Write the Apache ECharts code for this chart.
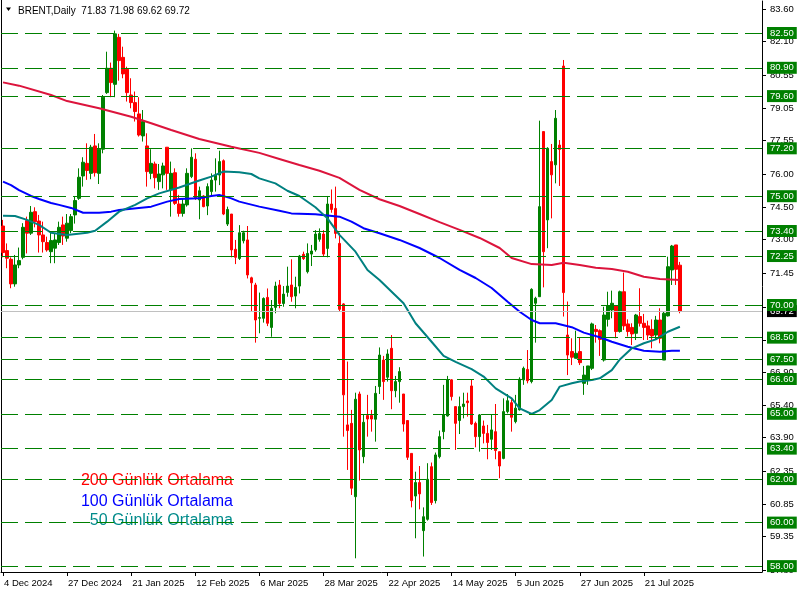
<!DOCTYPE html>
<html><head><meta charset="utf-8">
<script src="https://cdn.jsdelivr.net/npm/echarts@6/dist/echarts.min.js"></script>
<style>html,body{margin:0;padding:0;background:#fff}#c{width:805px;height:595px}</style>
</head><body><div id="c"></div>
<script>
const startDate = [2024, 11, 4];
const holidays = ['2024-12-25', '2025-01-01', '2025-04-18'];
const slotCount = 190;
const tickLabels = ['4 Dec 2024','27 Dec 2024','21 Jan 2025','12 Feb 2025','6 Mar 2025','28 Mar 2025','22 Apr 2025','14 May 2025','5 Jun 2025','27 Jun 2025','21 Jul 2025'];
const header = 'BRENT,Daily  71.83 71.98 69.62 69.72';

const opens = [73.63,72.50,72.10,70.97,71.84,72.19,73.88,73.30,74.29,73.86,73.22,72.87,72.45,72.61,72.87,73.68,73.07,73.42,74.14,74.90,
75.93,76.51,76.05,77.31,76.05,77.16,79.76,80.88,80.14,82.30,81.38,80.83,79.65,79.30,78.78,77.77,77.31,76.05,76.48,75.67,
75.98,77.25,75.29,76.08,74.64,74.21,74.60,75.90,76.70,74.83,75.01,74.55,75.21,75.74,75.97,76.63,73.72,74.18,72.56,72.14,
72.95,72.99,71.25,70.92,69.39,69.39,70.35,68.97,69.89,70.92,70.07,70.58,70.92,70.41,70.87,72.33,71.53,72.34,72.53,73.02,
73.26,72.60,74.64,74.44,72.83,70.05,64.49,64.56,61.19,65.91,63.03,64.92,64.92,64.75,66.25,67.47,66.68,68.01,66.06,66.48,
65.91,64.69,63.18,61.22,61.84,59.63,60.15,62.57,61.01,63.03,64.18,64.90,66.56,65.33,64.69,65.33,65.59,66.28,64.56,63.95,
64.44,64.10,63.83,64.18,63.26,62.95,65.10,65.51,64.64,65.18,66.56,67.04,66.48,70.08,70.38,77.97,73.91,76.59,76.44,77.35,
80.98,68.62,67.86,67.55,67.86,66.40,66.55,67.09,68.88,68.82,67.47,69.34,69.77,69.96,68.78,70.61,69.13,68.97,68.70,69.47,
69.16,69.04,68.88,68.62,69.31,67.47,69.50,71.61,72.76,71.83];
const highs = [73.91,72.83,72.19,72.30,72.64,73.76,74.06,74.55,74.49,74.14,73.83,73.14,73.37,73.30,73.83,74.06,74.18,74.18,74.98,76.28,
76.79,77.43,77.36,77.86,77.43,79.65,81.64,81.14,82.61,82.46,81.87,80.95,80.42,79.81,79.55,78.96,77.89,77.16,76.59,76.48,
76.54,77.25,76.59,76.28,75.06,74.90,76.28,77.20,76.97,75.44,75.05,75.59,76.05,76.74,77.09,76.69,74.52,74.18,72.99,73.67,
73.41,73.63,71.30,71.02,70.57,70.35,70.76,70.23,71.07,71.15,70.87,71.76,72.10,71.30,72.30,72.45,72.83,72.76,73.44,73.52,
73.44,75.01,75.31,75.44,73.32,70.08,67.40,65.18,65.97,66.02,64.99,65.87,65.18,66.28,68.05,67.66,67.96,68.62,66.74,67.14,
65.91,64.69,63.18,62.34,62.60,60.70,62.73,62.76,63.22,64.23,66.33,66.74,66.59,65.33,65.79,65.97,65.97,66.59,64.64,64.99,
64.69,64.49,64.99,65.45,63.26,65.71,65.91,65.67,65.87,66.68,67.17,67.93,70.77,70.38,78.47,77.97,77.25,77.40,78.96,77.58,
81.26,70.16,68.47,68.82,68.52,67.20,67.20,69.19,69.08,68.88,69.92,70.61,70.66,70.00,70.66,71.49,69.34,69.16,69.59,70.77,
69.59,69.28,69.34,69.50,69.85,69.69,72.22,72.76,72.76,71.98];
const lows = [72.19,71.69,70.77,70.84,71.69,72.10,72.37,73.22,73.57,72.41,72.41,72.45,71.92,71.92,72.76,72.76,72.91,73.30,73.74,74.83,
75.44,75.75,75.78,75.90,75.56,76.97,79.70,79.55,79.55,80.31,80.42,79.35,79.04,78.43,77.74,77.51,75.44,75.78,75.36,75.29,
75.36,75.29,74.06,74.60,74.06,74.06,74.52,75.83,74.83,73.94,74.49,74.13,75.05,75.21,75.51,74.13,73.63,72.19,71.88,72.07,
72.83,71.22,69.69,68.27,68.70,69.19,69.03,68.54,69.62,69.85,69.92,70.38,70.15,69.85,70.53,72.07,71.45,71.79,72.45,72.91,
72.22,72.19,74.24,73.06,69.69,63.95,62.42,61.27,58.36,61.93,62.73,63.95,64.18,63.72,65.91,65.64,66.48,65.21,65.76,65.51,
64.18,62.88,60.70,59.28,60.61,58.44,60.09,60.81,60.88,62.95,63.83,64.87,65.61,63.34,64.07,64.79,64.87,64.49,63.46,63.26,
63.64,62.91,63.34,62.91,62.04,62.91,65.02,64.18,64.56,65.15,66.33,66.40,66.40,68.27,70.38,70.81,72.61,73.98,75.59,75.47,
69.47,66.78,67.24,67.55,67.24,65.87,66.33,67.01,68.27,67.66,67.40,69.01,69.39,68.47,68.73,68.85,68.55,68.16,68.39,69.01,
68.39,68.39,68.01,68.39,68.24,67.47,69.47,70.92,70.92,69.62];
const closes = [72.41,72.15,70.97,71.84,72.04,73.57,73.30,74.26,73.83,73.22,72.91,72.53,72.96,72.99,73.57,73.17,73.76,74.06,74.80,75.87,
76.56,76.18,77.25,76.08,77.16,79.55,80.88,80.22,82.46,81.23,80.62,79.76,79.30,78.89,77.81,78.43,76.13,76.51,75.85,76.02,
76.39,76.05,76.05,74.67,74.21,74.64,76.05,76.79,74.90,75.25,74.52,75.44,75.74,75.97,76.59,74.18,74.39,72.53,72.19,73.32,
73.32,71.38,71.02,69.31,69.42,70.30,69.16,69.85,70.87,70.07,70.50,70.87,70.38,70.81,72.25,72.13,72.37,72.48,73.26,73.29,
72.34,74.64,74.39,73.29,69.80,65.87,64.23,61.58,65.67,63.34,64.61,64.76,64.76,65.94,67.70,66.48,67.75,66.06,66.48,66.94,
64.53,63.00,61.01,61.84,61.32,60.27,61.99,60.92,63.11,63.95,64.95,66.56,65.79,64.56,65.33,65.45,65.51,64.53,63.95,64.95,
64.10,63.68,64.26,63.31,62.60,65.10,65.60,64.84,65.26,66.59,67.09,66.52,70.72,70.31,74.52,72.45,77.20,75.98,78.58,77.15,
70.57,67.70,67.60,67.78,67.35,66.78,67.20,69.13,68.78,68.42,69.54,69.96,70.08,68.78,70.61,69.04,68.78,68.67,69.54,69.16,
68.97,68.62,68.58,69.31,68.47,69.62,71.76,72.71,71.64,69.72];

const ma200 = [[0,80.23],[4,80.08],[12,79.65],[16,79.37],[24,79.04],[32,78.65],[37,78.35],[42,78.04],[49,77.63],[57,77.27],
[64,76.99],[69,76.71],[74,76.43],[79,76.17],[84,75.84],[89,75.29],[94,74.86],[99,74.55],[104,74.18],[109,73.81],[114,73.45],
[119,73.08],[124,72.62],[127,72.16],[132,71.88],[137,71.84],[140,71.94],[144,71.84],[148,71.71],[152,71.65],[156,71.53],
[160,71.30],[164,71.19],[169,71.15]];
const ma100 = [[0,75.67],[2,75.51],[4,75.28],[7,75.01],[9,74.87],[12,74.69],[14,74.60],[17,74.46],[20,74.24],[24,74.24],[27,74.29],
[29,74.37],[37,74.52],[41,74.75],[44,74.87],[49,74.90],[52,75.01],[54,75.06],[57,74.90],[59,74.75],[64,74.52],[69,74.33],
[72,74.21],[78,74.17],[84,74.06],[87,73.83],[90,73.53],[94,73.30],[99,72.99],[104,72.62],[109,72.16],[114,71.61],[118,71.24],
[122,70.78],[126,70.15],[129,69.69],[132,69.31],[134,69.16],[138,69.16],[142,68.98],[145,68.73],[149,68.52],[152,68.31],
[156,68.08],[160,67.90],[164,67.85],[167,67.90],[169,67.90]];
const ma50 = [[0,74.10],[3,74.09],[6,73.91],[9,73.68],[12,73.32],[16,73.22],[21,73.32],[23,73.41],[26,73.83],[29,74.29],[33,74.60],
[36,74.90],[39,75.13],[44,75.40],[49,75.72],[52,75.90],[55,76.13],[59,76.10],[62,76.02],[64,75.82],[68,75.59],[71,75.25],
[74,75.01],[78,74.49],[81,73.98],[84,73.22],[88,72.45],[91,71.61],[94,71.15],[100,70.08],[103,69.16],[107,68.31],[110,67.66],
[113,67.39],[117,67.05],[120,66.71],[123,66.17],[127,65.71],[129,65.25],[132,64.99],[134,65.17],[137,65.63],[139,66.25],
[142,66.40],[144,66.48],[147,66.55],[149,66.63],[152,67.01],[154,67.50],[157,68.01],[160,68.24],[163,68.42],[166,68.77],[169,69.00]];

const levels = [82.50,80.90,79.60,77.20,75.00,73.40,72.25,70.00,68.50,67.50,66.60,65.00,63.40,62.00,60.00,58.00];
const lastPrice = 69.72;
const priceTicks = [57.80,59.35,60.85,62.35,63.90,65.40,66.90,68.40,69.90,71.45,73.00,74.50,76.00,77.55,79.05,80.55,82.10,83.60];
const legendItems = ['200 Günlük Ortalama','100 Günlük Ortalama','50 Günlük Ortalama'];
const legendColors = ['#FF0000','#0000FF','#008B8B'];

const MON = ['Jan','Feb','Mar','Apr','May','Jun','Jul','Aug','Sep','Oct','Nov','Dec'];
const cats = [];
const d = new Date(Date.UTC(startDate[0], startDate[1], startDate[2]));
while (cats.length < slotCount) {
  const wd = d.getUTCDay();
  const iso = d.toISOString().slice(0, 10);
  if (wd !== 0 && wd !== 6 && !holidays.includes(iso)) cats.push(d.getUTCDate() + ' ' + MON[d.getUTCMonth()] + ' ' + d.getUTCFullYear());
  d.setUTCDate(d.getUTCDate() + 1);
}
const isTick = (i, v) => tickLabels.includes(v);
const FONT = '"Liberation Sans", Arial, sans-serif';

const candleData = opens.map((o, i) => [o, closes[i], lows[i], highs[i]]);
const lvlLabel = (bg) => ({show: true, position: 'end', distance: 5, color: '#fff', backgroundColor: bg,
  padding: [2, 3, 1, 3], fontSize: 9.5, fontFamily: FONT, lineHeight: 9, formatter: p => p.value.toFixed(2)});
const markData = [{yAxis: lastPrice, lineStyle: {color: '#C0C0C0', type: 'solid', width: 1}, label: lvlLabel('#000')}]
  .concat(levels.map(v => ({yAxis: v, lineStyle: {color: '#008000', type: [17, 7], width: 1}, label: lvlLabel('#008000')})));

const chart = echarts.init(document.getElementById('c'), null, {renderer: 'canvas'});
chart.setOption({
  animation: false,
  backgroundColor: '#fff',
  grid: {left: 1, right: 43, top: 1, bottom: 23, containLabel: false},
  xAxis: {
    type: 'category', data: cats, boundaryGap: true,
    axisLine: {show: true, lineStyle: {color: '#000', width: 1}},
    axisTick: {show: true, interval: isTick, alignWithLabel: true, length: 4, lineStyle: {color: '#000'}},
    axisLabel: {interval: isTick, align: 'left', color: '#000', fontSize: 9.5, fontFamily: FONT, margin: 6, padding: [0, 0, 0, 1]},
    splitLine: {show: false}
  },
  yAxis: {
    type: 'value', position: 'right', min: 57.73, max: 83.97,
    axisLine: {show: true, lineStyle: {color: '#000', width: 1}},
    axisTick: {show: true, customValues: priceTicks, length: 4, lineStyle: {color: '#000'}},
    axisLabel: {customValues: priceTicks, formatter: v => v.toFixed(2), color: '#000', fontSize: 9.5, fontFamily: FONT, margin: 8, hideOverlap: false},
    splitLine: {show: false}
  },
  series: [
    {type: 'line', name: 'levels', data: [], z: 1, silent: true,
     markLine: {symbol: 'none', silent: true, animation: false, precision: 2, data: markData}},
    {type: 'candlestick', data: candleData, barWidth: 3, z: 2,
     itemStyle: {color: '#008000', color0: '#FF0000', borderColor: '#008000', borderColor0: '#FF0000', borderWidth: 1}},
    {type: 'line', data: ma200, showSymbol: false, symbol: 'none', z: 3, lineStyle: {color: '#DC143C', width: 2}},
    {type: 'line', data: ma100, showSymbol: false, symbol: 'none', z: 3, lineStyle: {color: '#0000FF', width: 2}},
    {type: 'line', data: ma50, showSymbol: false, symbol: 'none', z: 3, lineStyle: {color: '#008080', width: 2}}
  ],
  graphic: [
    {type: 'line', z: 0, shape: {x1: 1.5, y1: 0, x2: 1.5, y2: 572}, style: {stroke: '#000', lineWidth: 1}},
    {type: 'polygon', z: 5, shape: {points: [[6, 7.5], [11, 7.5], [8.5, 11]]}, style: {fill: '#000'}},
    {type: 'text', z: 5, x: 18, y: 11, style: {text: header, fill: '#000', font: '10px ' + FONT, textVerticalAlign: 'middle', verticalAlign: 'middle'}},
    ...legendItems.map((t, k) => ({type: 'text', z: 0, x: 233, y: [481, 502, 521][k],
      style: {text: t, fill: legendColors[k], font: '16px ' + FONT, textAlign: 'right', align: 'right', textVerticalAlign: 'middle', verticalAlign: 'middle'}}))
  ]
});
</script></body></html>
